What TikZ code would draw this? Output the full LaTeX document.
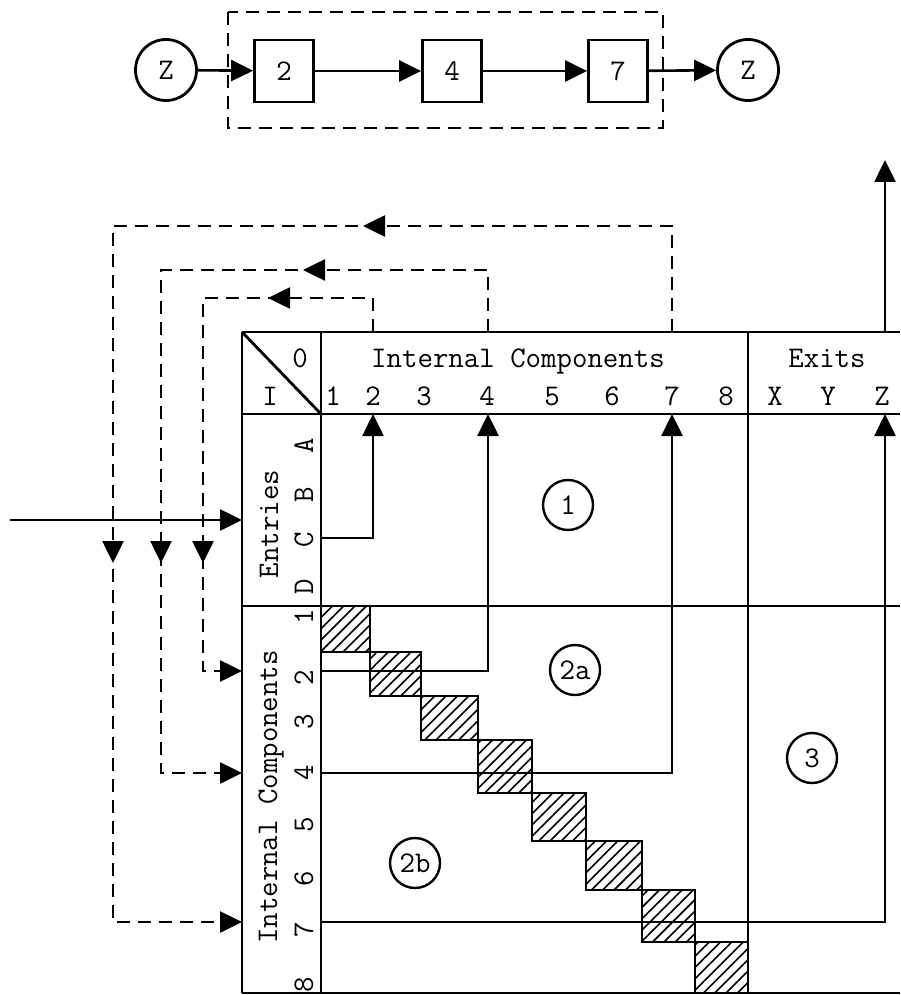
\documentclass[tikz,border=0pt]{standalone}
\usepackage{tikz}
\usetikzlibrary{arrows.meta, patterns.meta, decorations.markings}

\begin{document}
\begin{tikzpicture}[
    x=1pt, y=-1pt,
    >={Triangle[length=22pt, width=21pt]},
    every node/.style = {inner sep=0pt, font=\ttfamily\fontsize{30}{30}\selectfont},
    comp/.style = {draw=black, line width=2.8pt, minimum width=59pt, minimum height=62pt},
    exit/.style = {circle, draw=black, line width=2.8pt, minimum size=61pt},
    zone/.style = {circle, draw=black, line width=2.4pt, minimum size=50pt},
    gridline/.style = {draw=black, line width=2.8pt},
    hatch/.style = {draw=black, line width=2.8pt, pattern={Lines[angle=45, distance=8pt, line width=1.6pt]}},
    link/.style = {draw=black, line width=2.6pt, ->},
    feedback/.style 2 args = {draw=black, line width=2.6pt, dash pattern=on 13pt off 8pt, ->,
        postaction={decorate},
        decoration={markings, mark=at position #1 with {\arrow{>}}, mark=at position #2 with {\arrow{>}}}}
]
\useasboundingbox (0,0) rectangle (900,995);

% Chain of components
\node (zin) [exit] at (166,70) {Z};
\node (b2) [comp] at (284,71) {2};
\node (b4) [comp] at (452,71) {4};
\node (b7) [comp] at (618,71) {7};
\node (zout) [exit] at (748,70) {Z};
\draw [black, line width=2.6pt, dash pattern=on 13pt off 8pt] (228,12) rectangle (663,128);

\draw [link] (zin) -- (b2);
\draw [link] (b2) -- (b4);
\draw [link] (b4) -- (b7);
\draw [link] (b7) -- (zout);

% Matrix frame
\draw [gridline] (242,332) -- (900,332);
\draw [gridline] (242,414) -- (900,414);
\draw [gridline] (242,606) -- (900,606);
\draw [gridline] (242,993) -- (900,993);
\draw [gridline] (242,332) -- (242,993);
\draw [gridline] (321,332) -- (321,993);
\draw [gridline] (748,332) -- (748,993);
\draw [gridline] (242,332) -- (321,414);

% Diagonal blocks
\draw [hatch] (321,606) rectangle (370,652);
\draw [hatch] (370,652) rectangle (421,696);
\draw [hatch] (421,696) rectangle (478,740);
\draw [hatch] (478,740) rectangle (532,793);
\draw [hatch] (532,793) rectangle (586,841);
\draw [hatch] (586,841) rectangle (642,890);
\draw [hatch] (642,890) rectangle (695,942);
\draw [hatch] (695,942) rectangle (748,993);

% Header
\node (hO) [anchor=base] at (300,367) {0};
\node (hI) [anchor=base] at (270,405) {I};
\node (hInt) [anchor=base] at (518,367) {Internal Components};
\node (hExit) [anchor=base] at (827,367) {Exits};

\node (c1) [anchor=base] at (333,405) {1};
\node (c2) [anchor=base] at (373,405) {2};
\node (c3) [anchor=base] at (424,405) {3};
\node (c4) [anchor=base] at (487,405) {4};
\node (c5) [anchor=base] at (552,405) {5};
\node (c6) [anchor=base] at (612,405) {6};
\node (c7) [anchor=base] at (672,405) {7};
\node (c8) [anchor=base] at (726,405) {8};
\node (cX) [anchor=base] at (775,405) {X};
\node (cY) [anchor=base] at (828,405) {Y};
\node (cZ) [anchor=base] at (882,405) {Z};

% Row labels
\node (vEnt) [rotate=90, anchor=base] at (278,524) {Entries};
\node (rA) [rotate=90, anchor=base] at (313,446) {A};
\node (rB) [rotate=90, anchor=base] at (313,495) {B};
\node (rC) [rotate=90, anchor=base] at (313,540) {C};
\node (rD) [rotate=90, anchor=base] at (313,587) {D};

\node (vInt) [rotate=90, anchor=base] at (277,797) {Internal Components};
\node (r1) [rotate=90, anchor=base] at (313,617) {1};
\node (r2) [rotate=90, anchor=base] at (313,678) {2};
\node (r3) [rotate=90, anchor=base] at (313,722) {3};
\node (r4) [rotate=90, anchor=base] at (313,773) {4};
\node (r5) [rotate=90, anchor=base] at (313,825) {5};
\node (r6) [rotate=90, anchor=base] at (313,879) {6};
\node (r7) [rotate=90, anchor=base] at (313,930) {7};
\node (r8) [rotate=90, anchor=base] at (313,985) {8};

% Regions
\node (z1) [zone] at (568,505) {1};
\node (z2a) [zone] at (575,670) {2a};
\node (z2b) [zone] at (415,863) {2b};
\node (z3) [zone] at (812,758) {3};

% Connections inside the matrix
\coordinate (inC) at (321,538);
\coordinate (in2) at (321,671);
\coordinate (in4) at (321,773);
\coordinate (in7) at (321,922);
\coordinate (top2) at (373,414);
\coordinate (top4) at (488,414);
\coordinate (top7) at (672,414);
\coordinate (topZ) at (885,414);
\draw [link] (inC) -| (top2);
\draw [link] (in2) -| (top4);
\draw [link] (in4) -| (top7);
\draw [link] (in7) -| (topZ);

% Entry and exit
\coordinate (src) at (10,520);
\coordinate (entry) at (242,520);
\coordinate (outZ) at (885,332);
\coordinate (endZ) at (885,160);
\draw [link] (src) -- (entry);
\draw [link] (outZ) -- (endZ);

% Feedback loops
\coordinate (fb2) at (373,332);
\coordinate (fb4) at (488,332);
\coordinate (fb7) at (672,332);
\coordinate (back2) at (242,671);
\coordinate (back4) at (242,773);
\coordinate (back7) at (242,922);
\draw [feedback={139pt}{469pt}] (fb2) |- (203,298) |- (back2);
\draw [feedback={247pt}{682pt}] (fb4) |- (161,270) |- (back4);
\draw [feedback={415pt}{1002pt}] (fb7) |- (113,226) |- (back7);

\end{tikzpicture}
\end{document}
